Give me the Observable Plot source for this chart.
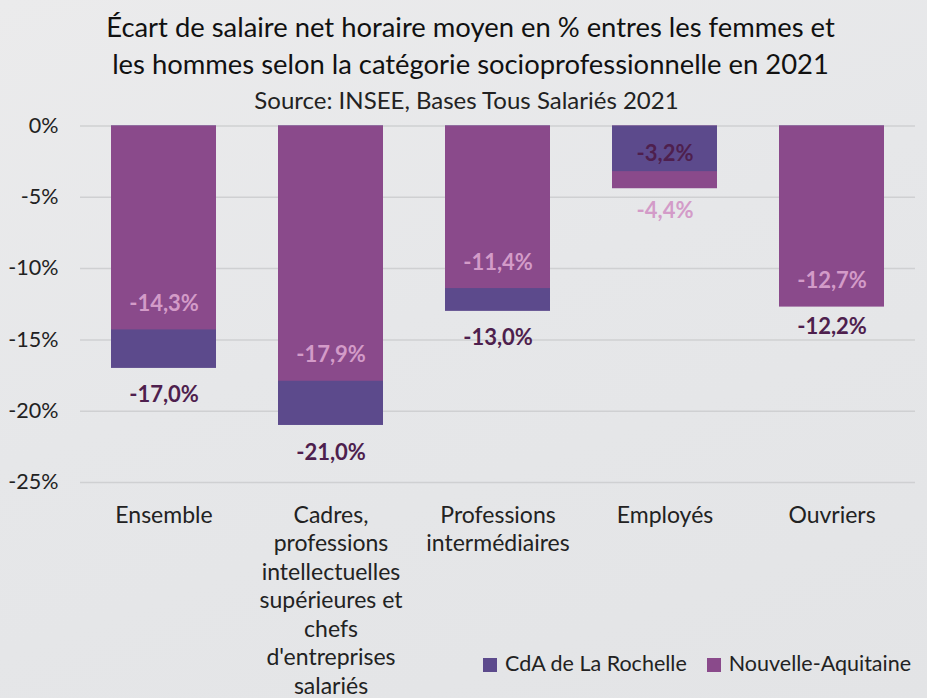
<!DOCTYPE html>
<html>
<head>
<meta charset="utf-8">
<script src="https://cdn.jsdelivr.net/npm/d3@7"></script>
<script src="https://cdn.jsdelivr.net/npm/@observablehq/plot@0.6"></script>
<style>
  html, body { margin: 0; padding: 0; }
  body {
    width: 927px; height: 698px; overflow: hidden; position: relative;
    background: linear-gradient(160deg, #ebebec 0%, #e6e7e9 45%, #e3e4e6 100%);
    font-family: Lato, "Open Sans", sans-serif; color: #111;
  }
  #title { position: absolute; left: 0; top: 8px; width: 927px; padding-left: 14px; box-sizing: border-box;
    text-align: center; font-size: 27.4px; line-height: 37px; color: #111; }
  #subtitle { position: absolute; left: 0; top: 85px; width: 927px; padding-left: 6px; box-sizing: border-box;
    text-align: center; font-size: 24px; line-height: 30px; color: #222; }
  #chart { position: absolute; left: 0; top: 112px; }
  #legend { position: absolute; left: 483px; top: 650px; font-size: 21.5px; color: #222; white-space: nowrap; }
  #legend span.sw { display: inline-block; width: 14px; height: 14px; vertical-align: -1px; margin-right: 8px; }
  #legend span.item { margin-right: 20px; }
  svg text { font-family: Lato, "Open Sans", sans-serif; }
</style>
</head>
<body>
<div id="title">Écart de salaire net horaire moyen en % entres les femmes et<br>les hommes selon la catégorie socioprofessionnelle en 2021</div>
<div id="subtitle">Source: INSEE, Bases Tous Salariés 2021</div>
<div id="chart"></div>
<div id="legend"></div>
<script>
const categories = [
  "Ensemble",
  "Cadres, professions intellectuelles supérieures et chefs d'entreprises salariés",
  "Professions intermédiaires",
  "Employés",
  "Ouvriers"
];
const tickLabels = [
  "Ensemble",
  "Cadres,\nprofessions\nintellectuelles\nsupérieures et\nchefs\nd'entreprises\nsalariés",
  "Professions\nintermédiaires",
  "Employés",
  "Ouvriers"
];
const series = ["CdA de La Rochelle", "Nouvelle-Aquitaine"];
const cdaValues = [-17.0, -21.0, -13.0, -3.2, -12.2];
const naValues = [-14.3, -17.9, -11.4, -4.4, -12.7];
const yTicks = [0, -5, -10, -15, -20, -25];
// which series' bar is drawn in front, per category
const frontSeries = ["Nouvelle-Aquitaine", "Nouvelle-Aquitaine", "Nouvelle-Aquitaine", "CdA de La Rochelle", "Nouvelle-Aquitaine"];
const flippedLabels = ["Employés"];

const barColors = ["#5c4a8c", "#8a4a8b"];
const labelColors = ["#4e1f4e", "#d39bc8"];

const rows = [];
categories.forEach((c, i) => {
  rows.push({cat: c, series: series[0], value: cdaValues[i]});
  rows.push({cat: c, series: series[1], value: naValues[i]});
});
const isFront = d => frontSeries[categories.indexOf(d.cat)] === d.series;
const backRows = rows.filter(d => !isFront(d));
const frontRows = rows.filter(isFront);

const fmt = v => v.toFixed(1).replace(".", ",") + "%";
const labelDy = d => {
  const flip = flippedLabels.includes(d.cat);
  if (d.series === series[0]) return flip ? -18 : 27;
  return flip ? 22 : -26;
};
const labelRows = rows.map(d => ({...d, dy: labelDy(d)}));
const labelGroups = d3.groups(labelRows, d => d.series, d => d.dy);

const textMarks = [];
for (const [s, byDy] of labelGroups) {
  const si = series.indexOf(s);
  for (const [dy, data] of byDy) {
    textMarks.push(Plot.text(data, {
      x: "cat", y: "value", text: d => fmt(d.value),
      dy, fill: labelColors[si], fontWeight: "bold", fontSize: 22
    }));
  }
}

const chart = Plot.plot({
  width: 927,
  height: 586,
  marginLeft: 80,
  marginRight: 12,
  marginTop: 13.5,
  marginBottom: 216,
  style: {background: "transparent", fontFamily: "Lato, 'Open Sans', sans-serif"},
  x: {domain: categories, paddingInner: 0.37, paddingOuter: 0.185, label: null},
  y: {domain: [-25, 0], label: null},
  color: {domain: series, range: barColors},
  marks: [
    Plot.gridY(yTicks, {stroke: "#cfd0d2", strokeOpacity: 1, strokeWidth: 1.5}),
    Plot.axisY(yTicks, {tickSize: 0, tickPadding: 22, tickFormat: d => d + "%", fontSize: 21.5, fill: "#222", label: null}),
    Plot.axisX({tickSize: 0, tickPadding: 20, fontSize: 23, fill: "#222", lineHeight: 1.24,
      tickFormat: d => tickLabels[categories.indexOf(d)], label: null}),
    Plot.barY(backRows, {x: "cat", y1: 0, y2: "value", fill: "series"}),
    Plot.barY(frontRows, {x: "cat", y1: 0, y2: "value", fill: "series"}),
    ...textMarks
  ]
});
document.getElementById("chart").appendChild(chart);

const legend = document.getElementById("legend");
series.forEach((s, i) => {
  const item = document.createElement("span");
  item.className = "item";
  item.innerHTML = `<span class="sw" style="background:${barColors[i]}"></span>${s}`;
  legend.appendChild(item);
});
</script>
</body>
</html>
